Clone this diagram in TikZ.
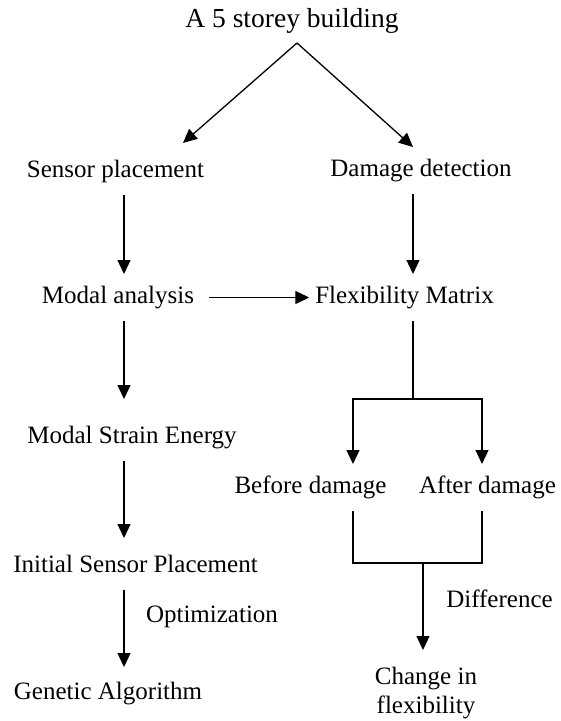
\documentclass[tikz,border=0pt]{standalone}
\usepackage{fontspec}
\setmainfont{Liberation Serif}
\usetikzlibrary{arrows.meta,calc}
\tikzset{lbl/.style={inner xsep=0pt, inner ysep=12pt, outer sep=0pt, anchor=base,
text height=17pt, text depth=6pt, font=\fontsize{25}{29}\selectfont},
ln/.style={line width=1.3pt},
arr/.style={ln, -{Triangle[length=14pt,width=13pt]}}}
\begin{document}
\begin{tikzpicture}[x=1pt,y=-1pt]
  \useasboundingbox (0,0) rectangle (561,721);
  % columns of the connectors
  \coordinate (lx) at (124,0);
  \coordinate (rx) at (413,0);
  \coordinate (bx) at (353,0);
  \coordinate (ax) at (482,0);

  \node (bldg) [lbl,font=\fontsize{27.5}{32}\selectfont] at (292,27) {A 5 storey building};
  \node (sensor) [lbl] at (115.5,177) {Sensor placement};
  \node (damage) [lbl] at (421,176) {Damage detection};
  \node (modal) [lbl] at (118,303) {Modal analysis};
  \node (flex) [lbl] at (404.5,303) {Flexibility Matrix};
  \node (mse) [lbl] at (132,443) {Modal Strain Energy};
  \node (before) [lbl] at (310.5,493) {Before damage};
  \node (after) [lbl] at (487.5,493) {After damage};
  \node (isp) [lbl] at (135.5,572) {Initial Sensor Placement};
  \node (opt) [lbl] at (212,622) {Optimization};
  \node (diff) [lbl] at (499.5,607) {Difference};
  \node (ga) [lbl] at (108,699) {Genetic Algorithm};
  \node (change) [lbl,align=center,inner sep=0pt,text height=,text depth=,anchor=north]
    at (426,667) {Change in\\flexibility};

  \coordinate (apex) at (297,43);
  \coordinate (sensorin) at (183,143);
  \coordinate (fork) at (413,399);
  \coordinate (join) at (423,563);

  % left branch
  \draw [arr] (apex) -- (sensorin);
  \draw [arr] (sensor.south -| lx) -- (modal.north -| lx);
  \draw [arr,shorten >=15pt] (modal.south -| lx) -- (mse.north -| lx);
  \draw [arr,shorten >=5pt] (mse.south -| lx) -- (isp.north -| lx);
  \draw [arr,shorten >=3pt] (isp.south -| lx) -- (ga.north -| lx);

  % right branch
  \draw [arr] (apex) -- (damage.north -| rx);
  \draw [arr] (damage.south -| rx) -- (flex.north -| rx);
  \draw [arr,shorten <=15pt,shorten >=6pt] (modal.east) -- (modal.east -| flex.west);
  \draw [ln] (flex.south -| rx) -- (fork);
  \draw [arr] (fork) -| (before.north -| bx);
  \draw [arr] (fork) -| (after.north -| ax);
  \draw [ln] (before.south -| bx) |- (join) -| (after.south -| ax);
  \draw [arr,shorten >=17pt] (join) -- (change.north -| join);
\end{tikzpicture}
\end{document}
